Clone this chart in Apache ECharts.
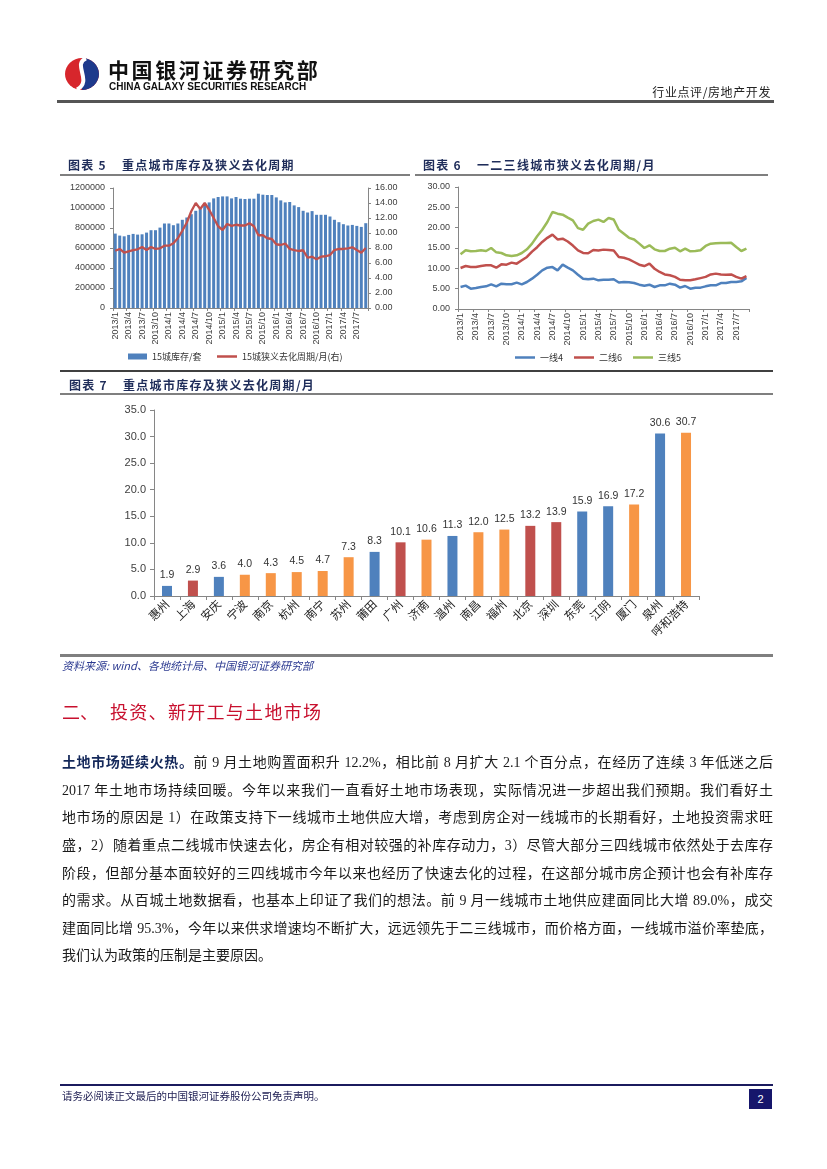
<!DOCTYPE html>
<html><head><meta charset="utf-8">
<script src="https://cdn.jsdelivr.net/npm/echarts@6/dist/echarts.min.js"></script>
<style>
html,body{margin:0;padding:0;background:#fff;}
#page{position:relative;width:827px;height:1169px;overflow:hidden;font-family:"Noto Sans CJK SC",sans-serif;}
#chart{position:absolute;left:0;top:0;width:827px;height:1169px;}
.t{position:absolute;white-space:nowrap;}
.hl{position:absolute;}
.ct{position:absolute;white-space:nowrap;font-size:12px;font-weight:bold;color:#1F2D5A;line-height:16px;letter-spacing:1.3px;}
.pl{position:absolute;left:62px;width:711px;height:27.6px;line-height:27.6px;font-size:14px;font-family:"Liberation Serif","Noto Sans CJK SC",serif;color:#1a1a1a;text-align:justify;text-align-last:justify;white-space:normal;overflow:hidden;}
</style></head>
<body>
<div id="page">
<div id="chart"></div>

<!-- header -->
<svg class="t" style="left:62px;top:57px" width="42" height="34" viewBox="0 0 42 34">
  <ellipse cx="20" cy="17" rx="17" ry="16" fill="#D7262C"/>
  <path d="M20,1 A17,16 0 0,1 20,33 Z" fill="#1E3A8C"/>
  <path d="M24,1.5 C10,7 31,24 15,32.5" stroke="#fff" stroke-width="4" fill="none"/>
</svg>
<div class="t" style="left:108px;top:58px;font-size:21px;line-height:22px;font-weight:bold;color:#111;letter-spacing:2.6px;">中国银河证券研究部</div>
<div class="t" style="left:109px;top:81px;font-size:10px;line-height:11px;font-weight:bold;color:#111;font-family:'Liberation Sans',Arial,sans-serif;">CHINA GALAXY SECURITIES RESEARCH</div>
<div class="t" style="right:56px;top:84px;font-size:12px;line-height:16px;color:#222;letter-spacing:0.6px;">行业点评/房地产开发</div>
<div class="hl" style="left:57px;top:100px;width:717px;height:2.5px;background:#555;"></div>

<!-- chart titles -->
<div class="ct" style="left:68px;top:157px;">图表 5<span style="margin-left:15px">重点城市库存及狭义去化周期</span></div>
<div class="hl" style="left:60px;top:174px;width:350px;height:2px;background:#7f7f7f;"></div>
<div class="ct" style="left:423px;top:157px;">图表 6<span style="margin-left:15px">一二三线城市狭义去化周期/月</span></div>
<div class="hl" style="left:415px;top:174px;width:353px;height:2px;background:#7f7f7f;"></div>
<div class="hl" style="left:60px;top:370px;width:713px;height:1.5px;background:#404040;"></div>
<div class="ct" style="left:69px;top:377px;">图表 7<span style="margin-left:15px">重点城市库存及狭义去化周期/月</span></div>
<div class="hl" style="left:60px;top:393px;width:713px;height:2px;background:#7f7f7f;"></div>
<div class="hl" style="left:60px;top:654px;width:713px;height:2.5px;background:#7f7f7f;"></div>
<div class="t" style="left:62px;top:657px;font-size:11px;line-height:16px;color:#2B3990;font-style:italic;">资料来源: wind、各地统计局、中国银河证券研究部</div>

<!-- section -->
<div class="t" style="left:62px;top:699px;font-size:18px;line-height:24px;color:#C8102E;">二、</div>
<div class="t" style="left:110px;top:699px;font-size:18px;line-height:24px;color:#C8102E;letter-spacing:1.3px;">投资、新开工与土地市场</div>

<div class="pl" style="top:749.2px;"><b style="color:#14285a;">土地市场延续火热。</b>前 9 月土地购置面积升 12.2%，相比前 8 月扩大 2.1 个百分点，在经历了连续 3 年低迷之后</div>
<div class="pl" style="top:776.8px;">2017 年土地市场持续回暖。今年以来我们一直看好土地市场表现，实际情况进一步超出我们预期。我们看好土</div>
<div class="pl" style="top:804.4px;">地市场的原因是 1）在政策支持下一线城市土地供应大增，考虑到房企对一线城市的长期看好，土地投资需求旺</div>
<div class="pl" style="top:832px;">盛，2）随着重点二线城市快速去化，房企有相对较强的补库存动力，3）尽管大部分三四线城市依然处于去库存</div>
<div class="pl" style="top:859.6px;">阶段，但部分基本面较好的三四线城市今年以来也经历了快速去化的过程，在这部分城市房企预计也会有补库存</div>
<div class="pl" style="top:887.2px;">的需求。从百城土地数据看，也基本上印证了我们的想法。前 9 月一线城市土地供应建面同比大增 89.0%，成交</div>
<div class="pl" style="top:914.8px;">建面同比增 95.3%，今年以来供求增速均不断扩大，远远领先于二三线城市，而价格方面，一线城市溢价率垫底，</div>
<div class="pl" style="top:942.4px;text-align-last:left;">我们认为政策的压制是主要原因。</div>

<!-- footer -->
<div class="hl" style="left:60px;top:1084px;width:713px;height:2px;background:#1b1b5e;"></div>
<div class="t" style="left:62px;top:1089px;font-size:10.5px;line-height:14px;color:#222255;">请务必阅读正文最后的中国银河证券股份公司免责声明。</div>
<div class="t" style="left:749px;top:1089px;width:23px;height:20px;background:#16166b;color:#fff;font-size:11px;line-height:20px;text-align:center;font-family:'Liberation Sans',Arial,sans-serif;">2</div>
</div>

<script>
// ---------- data ----------
const months = ['2013/1','2013/2','2013/3','2013/4','2013/5','2013/6','2013/7','2013/8','2013/9','2013/10','2013/11','2013/12',
'2014/1','2014/2','2014/3','2014/4','2014/5','2014/6','2014/7','2014/8','2014/9','2014/10','2014/11','2014/12',
'2015/1','2015/2','2015/3','2015/4','2015/5','2015/6','2015/7','2015/8','2015/9','2015/10','2015/11','2015/12',
'2016/1','2016/2','2016/3','2016/4','2016/5','2016/6','2016/7','2016/8','2016/9','2016/10','2016/11','2016/12',
'2017/1','2017/2','2017/3','2017/4','2017/5','2017/6','2017/7','2017/8','2017/9'];

const inventory15 = [744000,724000,717000,731000,741000,734000,737000,754000,778000,778000,
804000,845000,845000,828000,845000,882000,905000,938000,972000,989000,
1039000,1056000,1096000,1110000,1116000,1116000,1096000,1110000,1093000,1090000,
1093000,1093000,1143000,1133000,1130000,1130000,1106000,1076000,1056000,1060000,
1026000,1009000,972000,955000,969000,932000,932000,932000,915000,882000,
858000,838000,825000,831000,821000,811000,848000];

const cycle15 = [7.64,7.87,7.37,7.55,7.73,7.82,8.13,7.73,8.13,7.87,7.96,8.31,8.31,8.63,9.3,10.3,11.4,12.9,14.0,13.2,14.0,13.1,12.0,10.9,10.4,11.2,10.95,
11.1,11.0,11.0,11.3,10.9,9.7,9.7,9.3,9.2,8.5,8.4,8.6,7.87,7.73,7.6,7.7,6.7,6.84,6.5,6.84,6.9,7.06,7.73,7.87,7.87,7.96,8.1,7.73,7.37,8.0];

const tier1 = [5.41,5.74,5.0,5.16,5.41,5.57,6.07,5.57,6.23,6.07,6.1,6.48,6.07,6.64,7.46,8.44,9.5,10.16,10.3,9.5,10.9,10.16,9.5,8.44,7.46,7.3,7.46,7.05,7.2,7.2,7.3,6.5,
6.64,6.56,6.39,5.98,5.74,5.98,5.41,5.82,5.82,6.23,5.98,5.25,5.66,5.0,5.25,5.25,5.57,5.82,5.82,6.39,6.39,6.64,6.64,6.8,7.62];
const tier2 = [10.08,10.57,10.33,10.33,10.57,10.74,10.74,10.16,10.98,10.9,11.4,11.15,11.97,12.79,14.1,15.2,16.5,17.5,18.3,17.1,
17.3,16.6,15.6,14.4,13.8,13.7,14.5,14.4,14.6,14.5,14.4,12.8,12.6,12.2,11.56,10.9,10.57,11.15,9.9,9.1,
8.5,8.3,7.9,7.2,7.05,7.05,7.3,7.6,7.9,8.5,8.7,8.5,8.44,8.5,7.9,7.46,8.1];
const tier3 = [13.44,14.43,14.18,14.26,14.43,14.26,15.0,13.93,13.77,13.2,13.03,13.2,13.77,14.67,16.07,17.87,19.5,21.4,23.85,23.44,23.2,22.46,21.8,19.9,19.5,21.0,21.64,21.97,21.4,22.38,22.0,19.5,
18.5,17.5,17.1,16.07,15.0,15.66,14.67,14.26,14.26,14.84,15.08,14.18,14.84,14.18,14.26,14.43,15.5,16.07,16.15,16.23,16.23,16.3,15.25,14.26,14.84];

const cities = ['惠州','上海','安庆','宁波','南京','杭州','南宁','苏州','莆田','广州','济南','温州','南昌','福州','北京','深圳','东莞','江阴','厦门','泉州','呼和浩特'];
const cityCycle = [1.9,2.9,3.6,4.0,4.3,4.5,4.7,7.3,8.3,10.1,10.6,11.3,12.0,12.5,13.2,13.9,15.9,16.9,17.2,30.6,30.7];
const cityTier = [3,1,3,2,2,2,2,2,3,1,2,3,2,2,1,1,3,3,2,3,2];

const leftTicks5 = [0,200000,400000,600000,800000,1000000,1200000];

// ---------- styles ----------
const BLUE='#4F81BD', RED='#C0504D', GREEN='#9BBB59', ORANGE='#F79646';
const tierColor = {1:RED, 2:ORANGE, 3:BLUE};
const AX='#868686';
const lblFont = {fontFamily:'Liberation Sans, Arial, sans-serif', color:'#404040'};

const chart = echarts.init(document.getElementById('chart'), null, {renderer:'canvas'});

function catAxis(grid, data, extra){
  return Object.assign({
    type:'category', gridIndex:grid, data:data, boundaryGap:true,
    axisLine:{show:true, lineStyle:{color:AX, width:1}},
    axisTick:{show:true, interval:2, length:3, lineStyle:{color:AX}},
    axisLabel:Object.assign({interval:2, rotate:90, fontSize:9, margin:4}, lblFont),
    splitLine:{show:false}
  }, extra||{});
}
function valAxis(grid, min, max, itv, dec, extra){
  return Object.assign({
    type:'value', gridIndex:grid, min:min, max:max, interval:itv,
    axisLine:{show:true, lineStyle:{color:AX, width:1}},
    axisTick:{show:true, length:3, lineStyle:{color:AX}},
    axisLabel:Object.assign({fontSize:9, margin:8, formatter:function(v){return dec==null? String(v) : v.toFixed(dec);}}, lblFont),
    splitLine:{show:false}
  }, extra||{});
}

const option = {
  animation:false,
  backgroundColor:'transparent',
  grid:[
    {left:113, top:188, width:255, height:120, outerBoundsMode:'none'},
    {left:458, top:187, width:291, height:122, outerBoundsMode:'none'},
    {left:154, top:410, width:545, height:186, outerBoundsMode:'none'}
  ],
  xAxis:[
    catAxis(0, months),
    catAxis(1, months),
    catAxis(2, cities, {
      axisTick:{show:true, interval:0, length:4, lineStyle:{color:AX}},
      axisLabel:{interval:0, rotate:45, fontSize:11.5, margin:6, color:'#222', fontFamily:'Noto Sans CJK SC'}
    })
  ],
  yAxis:[
    valAxis(0, leftTicks5[0], leftTicks5[leftTicks5.length-1], 200000, null),
    valAxis(0, 0, 16, 2, 2, {position:'right', axisLabel:Object.assign({fontSize:9, margin:7, formatter:function(v){return v.toFixed(2);}}, lblFont)}),
    valAxis(1, 0, 30, 5, 2),
    valAxis(2, 0, 35, 5, 1, {axisTick:{show:true, length:4, lineStyle:{color:AX}}, axisLabel:Object.assign({fontSize:11, margin:8, formatter:function(v){return v.toFixed(1);}}, lblFont)})
  ],
  legend:[
    {data:[{name:'15城库存/套', icon:'rect'}], left:128, top:352, padding:0, itemWidth:19, itemHeight:6,
     textStyle:{fontSize:9, color:'#333', fontFamily:'Noto Sans CJK SC'}},
    {data:[{name:'15城狭义去化周期/月(右)', icon:'rect'}], left:217, top:352, padding:0, itemWidth:20, itemHeight:2.5,
     textStyle:{fontSize:9, color:'#333', fontFamily:'Noto Sans CJK SC'}},
    {data:[{name:'一线4',icon:'rect'},{name:'二线6',icon:'rect'},{name:'三线5',icon:'rect'}], left:515, top:353, padding:0, itemGap:11,
     itemWidth:20, itemHeight:2.5, textStyle:{fontSize:9, color:'#333', fontFamily:'Noto Sans CJK SC'}}
  ],
  series:[
    {name:'15城库存/套', type:'bar', xAxisIndex:0, yAxisIndex:0, data:inventory15, barWidth:3,
     itemStyle:{color:BLUE}},
    {name:'15城狭义去化周期/月(右)', type:'line', xAxisIndex:0, yAxisIndex:1, data:cycle15, showSymbol:false, symbol:'none',
     lineStyle:{color:RED, width:2.3}, itemStyle:{color:RED}, z:5},
    {name:'一线4', type:'line', xAxisIndex:1, yAxisIndex:2, data:tier1, symbol:'none', lineStyle:{color:BLUE, width:2.5}, itemStyle:{color:BLUE}},
    {name:'二线6', type:'line', xAxisIndex:1, yAxisIndex:2, data:tier2, symbol:'none', lineStyle:{color:RED, width:2.5}, itemStyle:{color:RED}},
    {name:'三线5', type:'line', xAxisIndex:1, yAxisIndex:2, data:tier3, symbol:'none', lineStyle:{color:GREEN, width:2.5}, itemStyle:{color:GREEN}},
    {name:'城市去化周期', type:'bar', xAxisIndex:2, yAxisIndex:3, barWidth:10,
     data:cityCycle.map(function(v,i){return {value:v, itemStyle:{color:tierColor[cityTier[i]]}};}),
     label:{show:true, position:'top', distance:5, fontSize:10.5, color:'#333', fontFamily:'Liberation Sans, Arial, sans-serif',
       formatter:function(p){return p.value.toFixed(1);}}}
  ]
};
chart.setOption(option);
</script>
</body></html>
